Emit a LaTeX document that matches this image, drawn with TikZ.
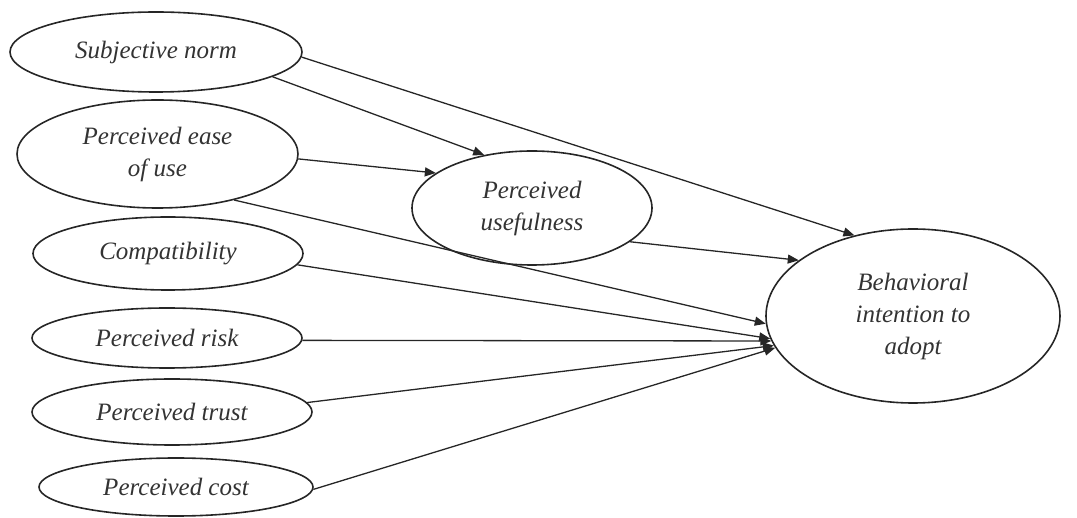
\documentclass[tikz,border=0pt]{standalone}
\usepackage{fontspec}
\setmainfont{Liberation Serif}
\usetikzlibrary{shapes.geometric,arrows.meta}
\begin{document}
\begin{tikzpicture}[x=1pt,y=-1pt,
  ell/.style={ellipse,draw=black!85,line width=1.6pt,inner sep=0pt,
    font=\fontsize{25}{32}\selectfont\itshape,text=black!80,align=center},
  arr/.style={draw=black!85,line width=1.3pt,-{Triangle[length=11pt,width=9pt]}}]
\useasboundingbox (0,0) rectangle (1077,518);
\node[ell,minimum width=292pt,minimum height=80pt] (sn) at (156,52) {Subjective norm};
\node[ell,minimum width=281pt,minimum height=108pt] (peou) at (157.5,154) {Perceived ease\\of use};
\node[ell,minimum width=270pt,minimum height=73pt] (comp) at (168,253.5) {Compatibility};
\node[ell,minimum width=270pt,minimum height=60pt] (risk) at (167,338) {Perceived risk};
\node[ell,minimum width=280pt,minimum height=66pt] (trust) at (172,412) {Perceived trust};
\node[ell,minimum width=274pt,minimum height=58pt] (cost) at (176,487) {Perceived cost};
\node[ell,minimum width=240pt,minimum height=114pt] (pu) at (532,208) {Perceived\\usefulness};
\node[ell,minimum width=294pt,minimum height=174pt] (bi) at (913,316) {Behavioral\\intention to\\adopt};
\draw[arr] (sn.-2) -- (bi.126.6);
\draw[arr] (sn.-12.5) -- (pu.132.2);
\draw[arr] (peou.-2.4) -- (pu.160.3);
\draw[arr] (peou.-31.2) -- (bi.183.4);
\draw[arr] (pu.-19.1) -- (bi.154.5);
\draw[arr] (comp.-5.6) -- (bi.189.8);
\draw[arr] (risk.-1.7) -- (bi.190.9);
\draw[arr] (trust.4.1) -- (bi.192.5);
\draw[arr] (cost.-1.2) -- (bi.193.2);
\end{tikzpicture}
\end{document}
